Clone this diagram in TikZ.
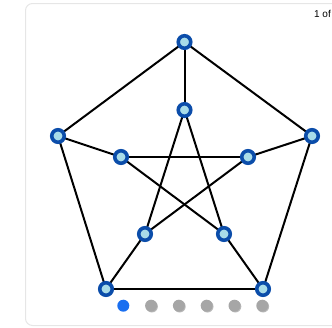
\documentclass[tikz,border=0pt]{standalone}
\usepackage{fontspec}
\newfontfamily\uifont{Liberation Sans}
\usepackage{xcolor}
\usetikzlibrary{math}
\definecolor{ringblue}{HTML}{0B4DAA}
\definecolor{fillblue}{HTML}{A9DCE8}
\definecolor{dotblue}{HTML}{1A6FF0}
\definecolor{dotgray}{HTML}{A6A6A6}
\definecolor{framegray}{HTML}{E6E6E6}
\tikzset{
 vert/.style={circle, draw=ringblue, fill=fillblue, line width=3.6pt, minimum size=12.5pt, inner sep=0pt},
 edge/.style={line width=2pt, color=black},
 pagedot/.style={circle, fill=dotgray, minimum size=12pt, inner sep=0pt},
}

\begin{document}
\begin{tikzpicture}[x=1pt,y=-1pt]
\tikzmath{
\cx=184.5;
\pd=27.8;
}
\useasboundingbox (0,0) rectangle (332,327);
\clip (0,0) rectangle (332,327);

 %card frame:
 \draw[framegray, line width=1pt, rounded corners=7pt] (25.5,3.5) rectangle (345,325.5);
 \node[anchor=north east, inner sep=0pt, font=\uifont\fontsize{10}{11}\selectfont] (count) at (331,10.5) {1 of};

 %outer vertices
 \coordinate (OT) at (\cx,42);
 \coordinate (OL) at (58,136);
 \coordinate (OR) at (312,136);
 \coordinate (OBL) at (106,289);
 \coordinate (OBR) at (263,289);
 %inner vertices
 \coordinate (IT) at (\cx,110);
 \coordinate (IL) at (121,157);
 \coordinate (IR) at (248,157);
 \coordinate (IBL) at (145,234);
 \coordinate (IBR) at (224,234);

 %edges
 \foreach \a/\b in {OT/OL, OL/OBL, OBL/OBR, OBR/OR, OR/OT,
   OT/IT, OL/IL, OR/IR, OBL/IBL, OBR/IBR,
   IT/IBL, IT/IBR, IL/IR, IL/IBR, IR/IBL}
   \draw[edge] (\a) -- (\b);

 %vertices on top
 \foreach \v in {OT, OL, OR, OBL, OBR, IT, IL, IR, IBL, IBR}
   \node[vert] (n\v) at (\v) {};

 %page dots
 \foreach \i in {1,...,5}
   \fill[black!45, opacity=0.6] (123.3+\i*\pd+0.8,306.5) circle (6pt);
 \foreach \i in {1,...,5}
   \node[pagedot] (dot\i) at (123.3+\i*\pd,305.7) {};
 \node[pagedot, fill=dotblue] (dot0) at (123.3,305.7) {};
\end{tikzpicture}
\end{document}
